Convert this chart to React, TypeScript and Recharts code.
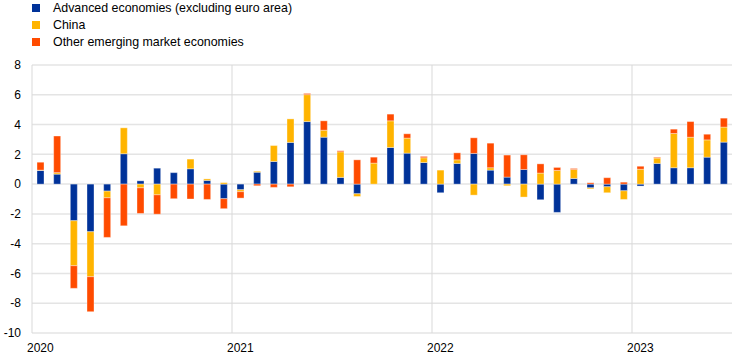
import { BarChart, Bar, XAxis, YAxis, CartesianGrid } from 'recharts';

const startYear = 2020;
const monthCount = 42;
const months: string[] = Array.from({ length: monthCount }, (_, i) => {
  const y = startYear + Math.floor(i / 12);
  const m = (i % 12) + 1;
  return `${y}-${m < 10 ? '0' + m : m}`;
});

const yearTicks = ['2020-01', '2021-01', '2022-01', '2023-01'];
const yTicks = [-10, -8, -6, -4, -2, 0, 2, 4, 6, 8];

const advanced = [
  0.92, 0.67, -2.46, -3.2, -0.47, 2.04, 0.22, 1.07, 0.77, 1.03, 0.25, -0.98,
  -0.38, 0.8, 1.52, 2.8, 4.2, 3.15, 0.45, -0.65, 0, 2.46, 2.08, 1.45,
  -0.58, 1.39, 2.06, 0.94, 0.47, 0.98, -1.05, -1.9, 0.38, -0.25, -0.18, -0.45,
  -0.13, 1.39, 1.1, 1.1, 1.81, 2.82,
];
const china = [
  0.02, 0.1, -3.02, -3.02, -0.45, 1.74, -0.25, -0.72, 0, 0.65, 0.1, 0.1,
  -0.13, 0.07, 1.07, 1.58, 1.81, 0.47, 1.72, -0.18, 1.41, 1.79, 1.01, 0.32,
  0.94, 0.24, -0.74, 0.16, -0.11, -0.87, 0.74, 0.92, 0.6, -0.07, -0.4, -0.58,
  1.0, 0.36, 2.3, 2.05, 1.16, 1.01,
];
const otherEme = [
  0.53, 2.46, -1.52, -2.35, -2.66, -2.8, -1.72, -1.3, -0.98, -1.0, -1.03, -0.67,
  -0.43, -0.11, -0.22, -0.18, 0.08, 0.63, 0.07, 1.63, 0.4, 0.45, 0.29, 0.09,
  0, 0.47, 1.05, 1.65, 1.48, 0.99, 0.62, 0.2, 0.07, 0.09, 0.43, 0.13,
  0.2, 0.05, 0.29, 1.05, 0.38, 0.6,
];

const series = [
  { key: 'advanced', name: 'Advanced economies (excluding euro area)', color: '#003299' },
  { key: 'china', name: 'China', color: '#ffb400' },
  { key: 'other', name: 'Other emerging market economies', color: '#ff4b00' },
];

const chartData = months.map((month, i) => ({
  month,
  advanced: advanced[i],
  china: china[i],
  other: otherEme[i],
}));

// category index of each January after the first: year separators
const yearLines = months
  .map((m, i) => (m.endsWith('-01') && i > 0 ? i : -1))
  .filter((i) => i > 0);

const font = '"Liberation Sans", Arial, sans-serif';

export default function App() {
  return (
    <div style={{ position: 'absolute', left: 0, top: 0, width: 742, height: 359, background: '#fff', fontFamily: font }}>
      <div style={{ position: 'absolute', left: 32, top: 0 }}>
        {series.map((s) => (
          <div key={s.key} style={{ display: 'flex', alignItems: 'center', height: 16.7, fontSize: 12.4, color: '#000' }}>
            <span style={{ width: 8, height: 8, background: s.color, display: 'inline-block' }} />
            <span style={{ marginLeft: 13 }}>{s.name}</span>
          </div>
        ))}
      </div>
      <BarChart
        width={742}
        height={359}
        data={chartData}
        stackOffset="sign"
        barCategoryGap="30%"
        margin={{ top: 65, right: 10, bottom: 0, left: 0 }}
      >
        <CartesianGrid vertical={false} stroke="#e4e4e4" strokeWidth={1.5} />
        <CartesianGrid
          horizontal={false}
          stroke="#d9d9d9"
          verticalCoordinatesGenerator={({ offset }: any) =>
            yearLines.map((i) => offset.left + (offset.width * i) / monthCount)
          }
        />
        <XAxis
          dataKey="month"
          ticks={yearTicks}
          interval={0}
          tickFormatter={(v) => String(v).slice(0, 4)}
          tickLine={false}
          axisLine={false}
          height={26}
          tickMargin={4}
          tick={{ fontSize: 12, fill: '#000', fontFamily: font }}
        />
        <YAxis
          domain={[-10, 8]}
          ticks={yTicks}
          width={32}
          tickLine={false}
          axisLine={{ stroke: '#d9d9d9' }}
          tickMargin={5}
          tick={{ fontSize: 12, fill: '#000', fontFamily: font }}
        />
        {series.map((s) => (
          <Bar
            key={s.key}
            dataKey={s.key}
            name={s.name}
            stackId="a"
            fill={s.color}
            stroke="#ffffff"
            strokeOpacity={0.35}
            strokeWidth={1}
            isAnimationActive={false}
          />
        ))}
      </BarChart>
    </div>
  );
}
